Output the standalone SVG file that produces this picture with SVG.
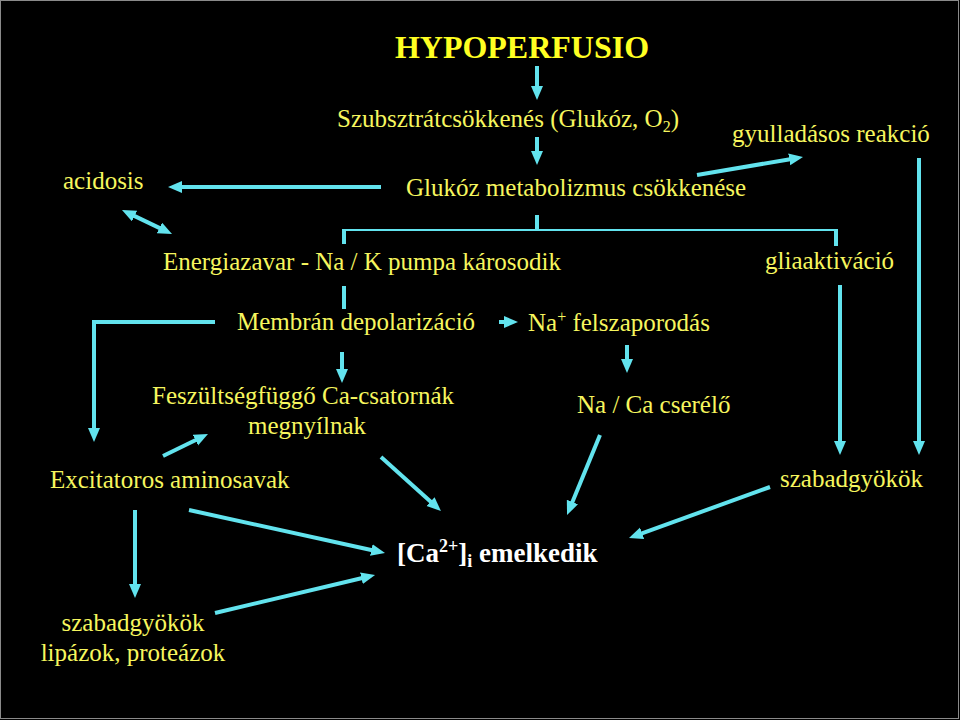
<svg xmlns="http://www.w3.org/2000/svg" width="960" height="720" viewBox="0 0 960 720">
<style>
.t{font-family:"Liberation Serif","Times New Roman",serif;font-size:25px;fill:#f6f65e}
.b{font-family:"Liberation Serif","Times New Roman",serif;font-weight:bold}
.c{stroke:#62e3ee;stroke-width:4;fill:none}
.thin{stroke:#62e3ee;stroke-width:2;fill:none}
</style>
<defs>
<marker id="ah" markerUnits="userSpaceOnUse" markerWidth="16" markerHeight="14" refX="1" refY="6" orient="auto-start-reverse">
<path d="M0,0 L14,6 L0,12 Z" fill="#62e3ee"/>
</marker>
</defs>
<rect x="0" y="0" width="960" height="720" fill="#000"/>
<rect x="0.5" y="0.5" width="958" height="718" fill="none" stroke="#8a8a8a" stroke-width="1"/>

<g id="connectors">
<line class="c" x1="537" y1="66" x2="537" y2="87" marker-end="url(#ah)"/>
<line class="c" x1="537" y1="137" x2="537" y2="152" marker-end="url(#ah)"/>
<line class="c" x1="381" y1="187" x2="181" y2="187" marker-end="url(#ah)"/>
<line class="c" x1="697" y1="175" x2="790.2" y2="159.2" marker-end="url(#ah)"/>
<line class="c" x1="133.7" y1="215.6" x2="160.3" y2="228.4" marker-start="url(#ah)" marker-end="url(#ah)"/>
<line class="c" x1="537" y1="215" x2="537" y2="230"/>
<polyline class="thin" points="344,230 836,230"/>
<line class="c" x1="344" y1="229" x2="344" y2="244"/>
<line class="c" x1="836" y1="229" x2="836" y2="246"/>
<line class="c" x1="344" y1="286" x2="344" y2="309"/>
<line class="c" x1="499" y1="322" x2="505" y2="322" marker-end="url(#ah)"/>
<polyline class="c" points="215,322 94,322 94,429" marker-end="url(#ah)"/>
<line class="c" x1="342" y1="352" x2="342" y2="370" marker-end="url(#ah)"/>
<line class="c" x1="627" y1="345" x2="627" y2="360" marker-end="url(#ah)"/>
<line class="c" x1="600" y1="435" x2="572" y2="503" marker-end="url(#ah)"/>
<line class="c" x1="840" y1="285" x2="840" y2="442" marker-end="url(#ah)"/>
<line class="c" x1="919" y1="158" x2="919" y2="442" marker-end="url(#ah)"/>
<line class="c" x1="770" y1="487" x2="641.2" y2="533.6" marker-end="url(#ah)"/>
<line class="c" x1="163" y1="456" x2="196.3" y2="439.7" marker-end="url(#ah)"/>
<line class="c" x1="381" y1="457" x2="431.3" y2="502.3" marker-end="url(#ah)"/>
<line class="c" x1="135" y1="510" x2="135" y2="585" marker-end="url(#ah)"/>
<line class="c" x1="189" y1="510" x2="372.3" y2="550.2" marker-end="url(#ah)"/>
<line class="c" x1="215" y1="613" x2="362.4" y2="578" marker-end="url(#ah)"/>
</g>

<g id="hypoperfusio"><text class="b" x="522" y="58" text-anchor="middle" font-size="32" fill="#ffff22">HYPOPERFUSIO</text></g>
<g id="szubsztrat"><text class="t" x="337" y="127">Szubsztrátcsökkenés (Glukóz, O<tspan font-size="16" dy="5">2</tspan><tspan dy="-5">)</tspan></text></g>
<g id="gyulladasos"><text class="t" x="732" y="142">gyulladásos reakció</text></g>
<g id="acidosis"><text class="t" x="63" y="189">acidosis</text></g>
<g id="glukoz"><text class="t" x="406" y="196">Glukóz metabolizmus csökkenése</text></g>
<g id="energiazavar"><text class="t" x="163" y="270">Energiazavar - Na / K pumpa károsodik</text></g>
<g id="gliaaktivacio"><text class="t" x="765" y="269">gliaaktiváció</text></g>
<g id="membran"><text class="t" x="237" y="330">Membrán depolarizáció</text></g>
<g id="na-felszap"><text class="t" x="528" y="331">Na<tspan font-size="16" dy="-9">+</tspan><tspan dy="9"> felszaporodás</tspan></text></g>
<g id="feszultseg"><text class="t" x="303" y="404" text-anchor="middle">Feszültségfüggő Ca-csatornák</text><text class="t" x="307" y="434" text-anchor="middle">megnyílnak</text></g>
<g id="naca"><text class="t" x="577" y="413">Na / Ca cserélő</text></g>
<g id="excitatoros"><text class="t" x="50" y="488">Excitatoros aminosavak</text></g>
<g id="szabad-right"><text class="t" x="780" y="487">szabadgyökök</text></g>
<g id="ca-emelkedik"><text class="b" x="397" y="562" font-size="27" fill="#ffffff">[Ca<tspan font-size="18" dy="-10">2+</tspan><tspan dy="10">]</tspan><tspan font-size="18" dy="5">i</tspan><tspan dy="-5"> emelkedik</tspan></text></g>
<g id="szabad-left"><text class="t" x="133" y="631" text-anchor="middle">szabadgyökök</text><text class="t" x="133" y="661" text-anchor="middle">lipázok, proteázok</text></g>
</svg>
